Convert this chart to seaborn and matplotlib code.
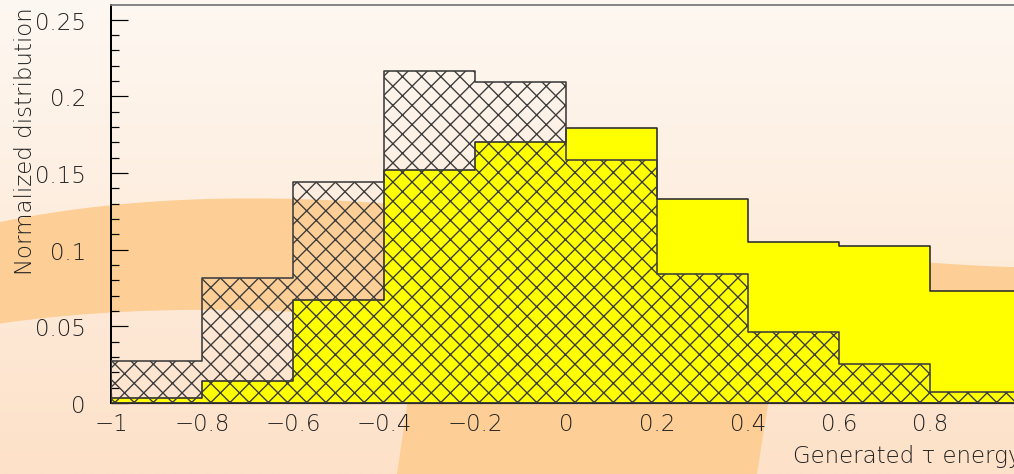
import numpy as np
import pandas as pd
import matplotlib
matplotlib.use("Agg")
import matplotlib.pyplot as plt
from matplotlib.patches import Polygon
from matplotlib.ticker import FixedLocator, MultipleLocator
import seaborn as sns

# Histogram binning on the generated tau energy axis
bin_edges = [-1.0, -0.8, -0.6, -0.4, -0.2, 0.0, 0.2, 0.4, 0.6, 0.8, 1.0]
bin_centers = [-0.9, -0.7, -0.5, -0.3, -0.1, 0.1, 0.3, 0.5, 0.7, 0.9]

# Normalized bin contents (each set sums to ~1)
filled_values = [0.0033, 0.0146, 0.0674, 0.1520, 0.1700, 0.1795, 0.1332, 0.1049, 0.1023, 0.0729]
hatched_values = [0.0272, 0.0815, 0.1440, 0.2165, 0.2097, 0.1586, 0.0844, 0.0465, 0.0257, 0.0070]

x_ticks = [-1.0, -0.8, -0.6, -0.4, -0.2, 0.0, 0.2, 0.4, 0.6, 0.8]
x_tick_labels = ["\u22121", "\u22120.8", "\u22120.6", "\u22120.4", "\u22120.2", "0",
                 "0.2", "0.4", "0.6", "0.8"]
y_ticks = [0.0, 0.05, 0.10, 0.15, 0.20, 0.25]
y_tick_labels = ["0", "0.05", "0.1", "0.15", "0.2", "0.25"]

x_title = "Generated \u03c4 energy"
y_title = "Normalized distribution"

# ---------------------------------------------------------------- style
W, H, DPI = 1015, 475, 115
sns.set_style("ticks")
plt.rcParams["font.family"] = ["DejaVu Sans"]
plt.rcParams["font.weight"] = "light"
plt.rcParams["axes.labelweight"] = "light"
plt.rcParams["hatch.color"] = "#111111"
plt.rcParams["hatch.linewidth"] = 0.85
plt.rcParams["axes.unicode_minus"] = True

px = 72.0 / DPI  # points per pixel
FS = 14.3

fig = plt.figure(figsize=(W / DPI, H / DPI), dpi=DPI)
fig.patch.set_facecolor("#fdf0e4")

# ---------------------------------------------------------------- canvas backdrop
bg = fig.add_axes([0, 0, 1, 1], zorder=-1)
bg.set_xlim(0, W)
bg.set_ylim(H, 0)
bg.axis("off")
top_rgb = np.array([254, 248, 242]) / 255.0
bot_rgb = np.array([253, 225, 200]) / 255.0
t = np.linspace(0, 1, 256)[:, None, None]
grad = top_rgb[None, None, :] * (1 - t) + bot_rgb[None, None, :] * t
grad = np.repeat(grad, 2, axis=1)
bg.imshow(grad, extent=[0, W, H, 0], aspect="auto", interpolation="bilinear")

swoosh = "#fdcf96"
xs = np.linspace(0, W, 200)
top_edge = np.polyval(np.polyfit([0, 111, 250, 400, 932, 1015],
                                 [223, 206, 200, 205, 264, 268], 3), xs)
bot_edge = np.polyval(np.polyfit([0, 111, 200, 600, 1015],
                                 [325, 312, 312, 340, 378], 3), xs)
band = np.vstack([np.column_stack([xs, top_edge]),
                  np.column_stack([xs[::-1], bot_edge[::-1]])])
bg.add_patch(Polygon(band, closed=True, facecolor=swoosh, edgecolor="none"))
bg.add_patch(Polygon([(411, 380), (772, 380), (757, H), (397, H)], closed=True,
                     facecolor=swoosh, edgecolor="none"))

# ---------------------------------------------------------------- histogram frame
left, right, top, bottom = 111, 1021, 5.7, 404
ax = fig.add_axes([left / W, (H - bottom) / H, (right - left) / W, (bottom - top) / H])
ax.set_facecolor("none")

df = pd.DataFrame({"x": bin_centers, "filled": filled_values, "hatched": hatched_values})

sns.histplot(data=df, x="x", weights="filled", bins=bin_edges, element="step",
             fill=True, color="#ffff00", alpha=1.0, edgecolor="#2a2a2a",
             linewidth=1.0, ax=ax, zorder=2)
sns.histplot(data=df, x="x", weights="hatched", bins=bin_edges, element="step",
             fill=True, color="#3c3c3c", facecolor="none", edgecolor="#3c3c3c",
             linewidth=1.0, hatch="xx", ax=ax, zorder=3)

ax.set_xlim(-1.0, 1.0)
ax.set_ylim(0, 0.2598)
ax.set_axisbelow(True)

ax.xaxis.set_major_locator(FixedLocator(x_ticks))
ax.set_xticklabels(x_tick_labels)
ax.yaxis.set_major_locator(FixedLocator(y_ticks))
ax.set_yticklabels(y_tick_labels)
ax.yaxis.set_minor_locator(MultipleLocator(0.01))

label_color = "#222222"
ax.tick_params(axis="y", which="major", direction="in", length=17 * px, width=1.2 * px,
               pad=25 * px, labelsize=FS, labelcolor=label_color, color="black")
ax.tick_params(axis="y", which="minor", direction="in", length=8 * px, width=1.2 * px,
               color="black")
ax.tick_params(axis="x", which="major", direction="in", length=10 * px, width=1.2 * px,
               pad=9 * px, labelsize=FS, labelcolor=label_color, color="black")
ax.tick_params(axis="x", which="minor", length=0)

ax.spines["right"].set_visible(False)
ax.spines["left"].set_color("black")
ax.spines["left"].set_linewidth(2.0 * px)
ax.spines["bottom"].set_color("#2a2a2a")
ax.spines["bottom"].set_linewidth(1.2 * px)
ax.spines["top"].set_color("#7a7a7a")
ax.spines["top"].set_linewidth(1.8 * px)

ax.set_xlabel(x_title, fontsize=FS, fontweight="light", color=label_color, loc="right")
ax.xaxis.set_label_coords(1.0, -0.103)
ax.set_ylabel(y_title, fontsize=FS, fontweight="light", color=label_color, loc="top")
ax.yaxis.set_label_coords(-0.081, 0.997)

fig.savefig("out.png", dpi=DPI)
